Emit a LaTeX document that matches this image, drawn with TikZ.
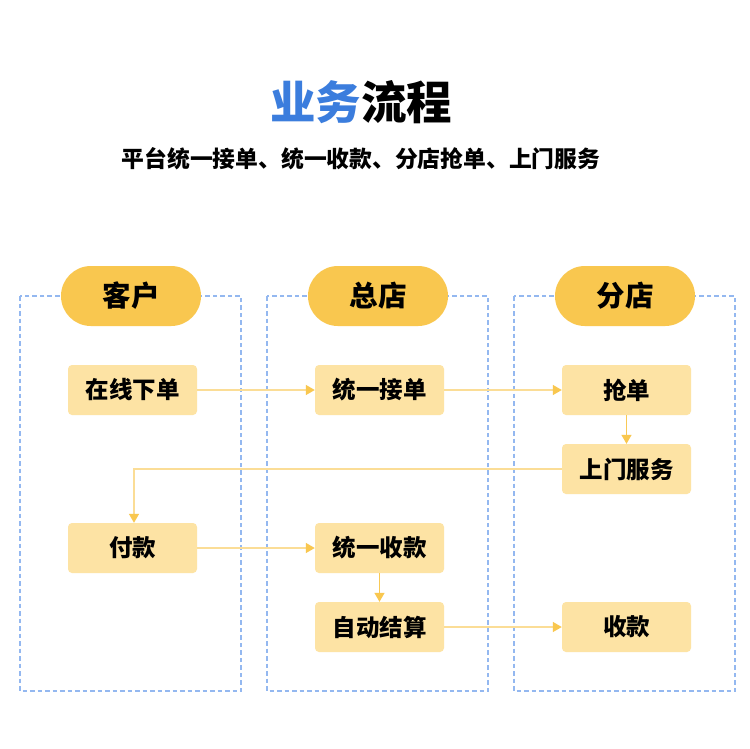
\documentclass[tikz,border=0pt]{standalone}
\usepackage{fontspec}
\setmainfont{Noto Sans CJK SC}[BoldFont={Noto Sans CJK SC Black}]
\usetikzlibrary{arrows.meta}
\definecolor{laneblue}{HTML}{94B8F0}
\definecolor{pillgold}{HTML}{F9C74F}
\definecolor{boxfill}{HTML}{FDE3A4}
\definecolor{hline}{HTML}{FBDD96}
\definecolor{vline}{HTML}{F8C956}
\definecolor{titleblue}{HTML}{3B7DDD}
\tikzset{
  lane/.style={draw=laneblue, dash pattern=on 4.5pt off 3pt, line width=1.8pt},
  pill/.style={fill=pillgold, rounded corners=29.9pt, minimum width=140pt, minimum height=60pt, inner sep=0pt, font=\fontsize{28.5}{28.5}\selectfont\bfseries},
  stepbox/.style={fill=boxfill, rounded corners=4pt, minimum width=129pt, minimum height=50pt, inner sep=0pt, font=\fontsize{23.5}{23.5}\selectfont\bfseries},
  harrow/.style={draw=hline, line width=1.3pt, -{Triangle[length=9pt,width=10pt,color=pillgold]}},
  varrow/.style={draw=vline, line width=1.3pt, -{Triangle[length=9pt,width=10pt,color=pillgold]}},
}
\begin{document}
\begin{tikzpicture}[x=1pt,y=-1pt]
\useasboundingbox (0,0) rectangle (750,748);
\fill[white] (0,0) rectangle (750,748);
% title
\node (title) at (361,102) {\fontsize{45.5}{45.5}\selectfont\bfseries\textcolor{titleblue}{业务}流程};
\node (subtitle) at (361,159) {\fontsize{22.8}{22.8}\selectfont\bfseries 平台统一接单、统一收款、分店抢单、上门服务};
% lanes
\draw[lane] (20,296) rectangle (241,691);
\draw[lane] (267,296) rectangle (488,691);
\draw[lane] (514,296) rectangle (735,691);
% headers
\node[pill] (h1) at (131,296) {\raisebox{-2.5pt}{客户}};
\node[pill] (h2) at (378,296) {\raisebox{-2.5pt}{总店}};
\node[pill] (h3) at (625,296) {\raisebox{-2.5pt}{分店}};
% boxes
\node[stepbox] (zxxd) at (132.5,390) {在线下单};
\node[stepbox] (tyjd) at (379.5,390) {统一接单};
\node[stepbox] (qd) at (626.5,390) {抢单};
\node[stepbox] (smfw) at (626.5,469) {上门服务};
\node[stepbox] (fk) at (132.5,548) {付款};
\node[stepbox] (tysk) at (379.5,548) {统一收款};
\node[stepbox] (zdjs) at (379.5,627) {自动结算};
\node[stepbox] (sk) at (626.5,627) {收款};
% connectors
\draw[harrow] (zxxd) -- (tyjd);
\draw[harrow] (tyjd) -- (qd);
\draw[varrow] (qd) -- (smfw);
\coordinate (turn) at (134,469);
\draw[harrow] (smfw.west) -- (turn) -- (turn |- fk.north);
\draw[harrow] (fk) -- (tysk);
\draw[varrow] (tysk) -- (zdjs);
\draw[harrow] (zdjs) -- (sk);
\end{tikzpicture}
\end{document}
